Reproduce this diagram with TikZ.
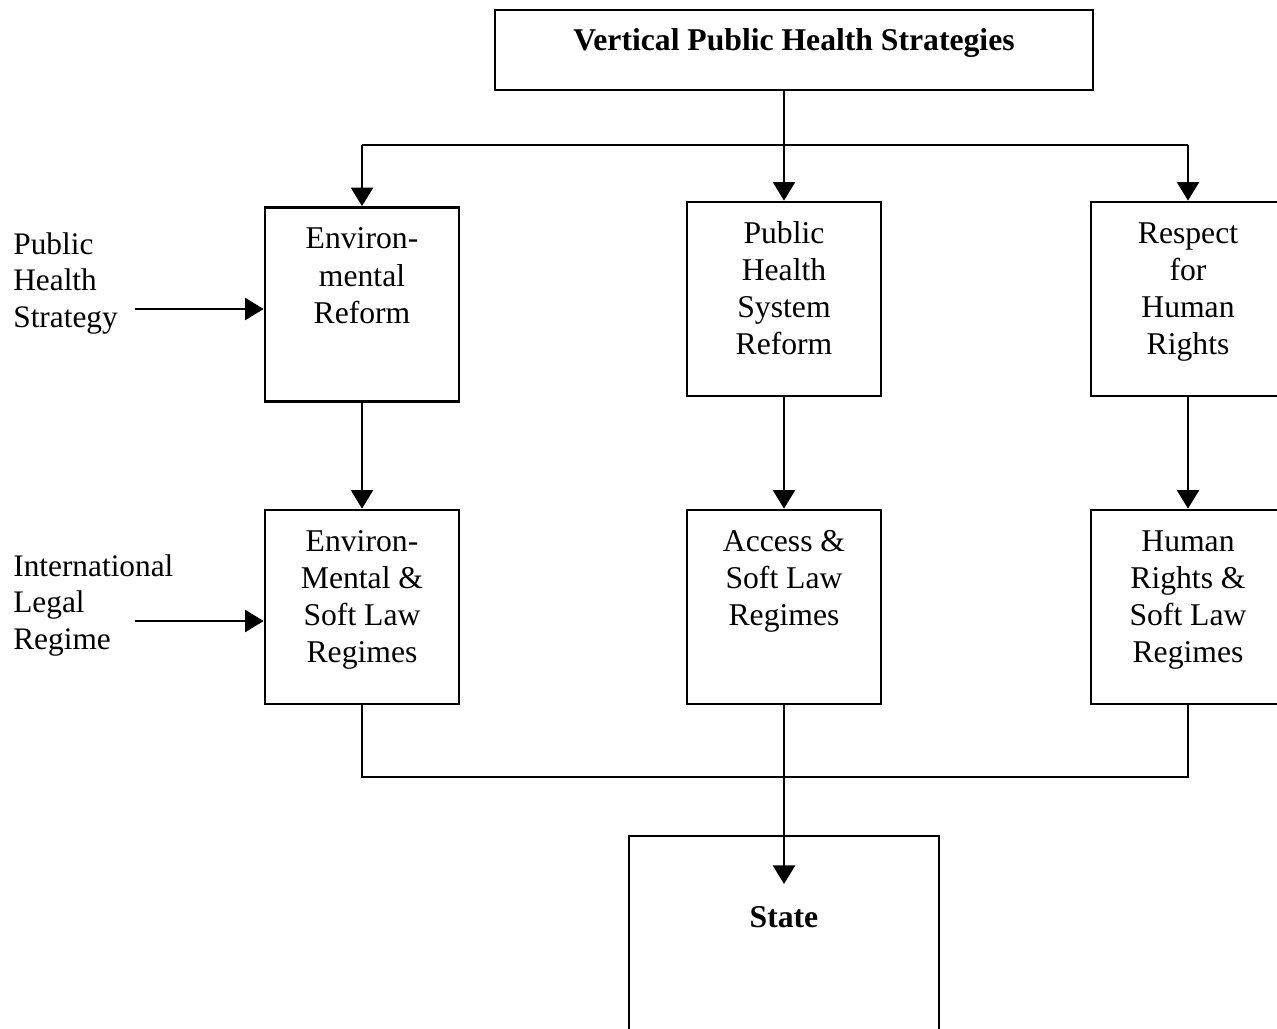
\documentclass[tikz,border=0pt]{standalone}
\usepackage{fontspec}
\setmainfont{Liberation Serif}
\usetikzlibrary{arrows.meta}
\newcommand{\bxt}[4]{\begin{minipage}[c][#1][t]{#2}\centering\rule{0pt}{#3}#4\end{minipage}}
\begin{document}
\begin{tikzpicture}[x=0.75pt,y=-0.75pt,line width=2pt,
  box/.style={draw,inner sep=0pt,font=\fontsize{23.75pt}{27.9pt}\selectfont},
  lbl/.style={anchor=north west,inner sep=0pt,align=left,font=\fontsize{23.5pt}{27.6pt}\selectfont},
  arr/.style={-{Triangle[width=16.5pt,length=14pt]}}]
\useasboundingbox[fill=white] (0,0) rectangle (1277,1028);
\node[box] (top) at (794,50) {\bxt{60pt}{448.5pt}{30pt}{\textbf{Vertical Public Health Strategies}}};
\node[box] (env) at (362,304.5) {\bxt{145.5pt}{145.5pt}{31pt}{Environ-\\mental\\Reform}};
\node[box] (phs) at (784,299) {\bxt{145.5pt}{145.5pt}{31pt}{Public\\Health\\System\\Reform}};
\node[box] (resp) at (1188,299) {\bxt{145.5pt}{145.5pt}{31pt}{Respect\\for\\Human\\Rights}};
\node[box] (envlaw) at (362,607) {\bxt{145.5pt}{145.5pt}{31pt}{Environ-\\Mental \&\\Soft Law\\Regimes}};
\node[box] (access) at (784,607) {\bxt{145.5pt}{145.5pt}{31pt}{Access \&\\Soft Law\\Regimes}};
\node[box] (hr) at (1188,607) {\bxt{145.5pt}{145.5pt}{31pt}{Human\\Rights \&\\Soft Law\\Regimes}};
\node[box] (state) at (784,938) {\bxt{153pt}{232.5pt}{68.25pt}{\textbf{State}}};
\node[lbl] (psl) at (12,231) {Public\\Health\\Strategy};
\node[lbl] (ilr) at (12,553) {International\\Legal\\Regime};
\coordinate (bus1) at (784,145);
\coordinate (bus2) at (784,777);
\coordinate (pst) at (135,309);
\coordinate (ilt) at (135,621);
\coordinate (stin) at (784,884);
% top distribution
\draw (phs.north |- top.south) -- (bus1);
\draw (bus1 -| env.north) -- (bus1 -| resp.north);
\draw[arr] (bus1 -| env.north) -- (env.north);
\draw[arr] (bus1) -- (phs.north);
\draw[arr] (bus1 -| resp.north) -- (resp.north);
% left inputs
\draw[arr] (pst) -- (pst -| env.west);
\draw[arr] (ilt) -- (ilt -| envlaw.west);
% middle
\draw[arr] (env.south) -- (envlaw.north);
\draw[arr] (phs.south) -- (access.north);
\draw[arr] (resp.south) -- (hr.north);
% bottom
\draw (envlaw.south) -- (bus2 -| envlaw.south) -- (bus2 -| hr.south) -- (hr.south);
\draw[arr] (access.south) -- (stin);
\end{tikzpicture}
\end{document}
